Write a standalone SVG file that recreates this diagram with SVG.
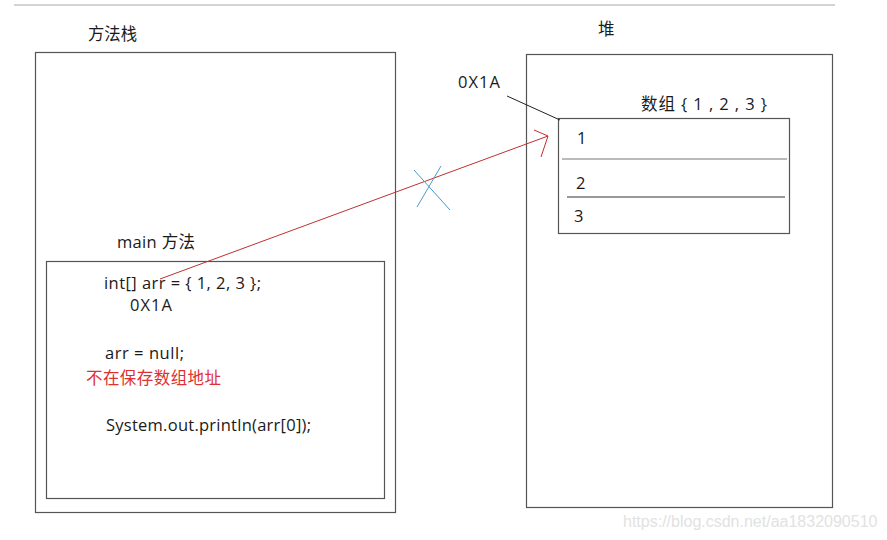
<svg xmlns="http://www.w3.org/2000/svg" width="887" height="540" viewBox="0 0 887 540">
<style>
.t{font-family:"Open Sans","Noto Sans CJK SC",sans-serif;font-size:16.5px;fill:#1a1a1a}
.box{fill:none;stroke:#555;stroke-width:1.2}
.red{fill:#e03030}
</style>
<rect width="887" height="540" fill="#fff"/>
<line x1="14" y1="5" x2="835" y2="5" stroke="#aaa" stroke-width="1.2"/>
<g id="stack">
<rect class="box" x="35.5" y="52.5" width="360" height="460"/>
<text class="t" x="88" y="40" textLength="49" lengthAdjust="spacingAndGlyphs">方法栈</text>
</g>
<g id="heap">
<rect class="box" x="526.5" y="54.5" width="306" height="453"/>
<text class="t" x="598" y="35">堆</text>
</g>
<g id="main">
<rect class="box" x="46.5" y="261.5" width="338" height="237"/>
<text class="t" x="117" y="248" textLength="78" lengthAdjust="spacing">main 方法</text>
<text class="t" x="104" y="289" textLength="157" lengthAdjust="spacing">int[] arr = { 1, 2, 3 };</text>
<text class="t" x="130" y="311" textLength="42" lengthAdjust="spacing">0X1A</text>
<text class="t" x="105" y="359" textLength="79" lengthAdjust="spacing">arr = null;</text>
<text class="t red" x="86" y="384" textLength="135" lengthAdjust="spacing">不在保存数组地址</text>
<text class="t" x="106" y="431" textLength="205" lengthAdjust="spacing">System.out.println(arr[0]);</text>
</g>
<g id="array">
<rect class="box" x="558.5" y="118.5" width="231" height="115"/>
<line x1="562" y1="159" x2="787" y2="159" stroke="#777" stroke-width="1.2"/>
<line x1="567" y1="197" x2="785" y2="197" stroke="#333" stroke-width="1"/>
<text class="t" x="577" y="144">1</text>
<text class="t" x="576" y="189">2</text>
<text class="t" x="574" y="222">3</text>
<text class="t" x="641" y="110" textLength="126" lengthAdjust="spacing">数组 { 1 , 2 , 3 }</text>
</g>
<g id="address">
<text class="t" x="458" y="88" textLength="42" lengthAdjust="spacing">0X1A</text>
</g>
<g id="connectors">
<line x1="507" y1="96" x2="560" y2="120" stroke="#222" stroke-width="1"/>
<line x1="160" y1="279" x2="548" y2="136" stroke="#c03030" stroke-width="1"/>
<polyline points="534,130 548,136 541,157" fill="none" stroke="#c03030" stroke-width="1"/>
<line x1="414" y1="170" x2="450" y2="210" stroke="#4a9ad0" stroke-width="1"/>
<line x1="441" y1="166" x2="417" y2="207" stroke="#4a9ad0" stroke-width="1"/>
</g>
<text x="623" y="527" font-family="Liberation Sans, sans-serif" font-size="16" fill="#e2e2e2">https://blog.csdn.net/aa1832090510</text>
</svg>
